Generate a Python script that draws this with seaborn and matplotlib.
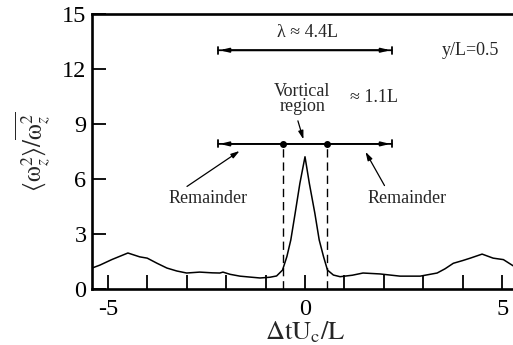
import numpy as np
import pandas as pd
import matplotlib
matplotlib.use("Agg")
import matplotlib.pyplot as plt
import seaborn as sns

# data
x_vals = [-5.40, -5.2, -4.9, -4.49, -4.19, -4.0, -3.75, -3.5, -3.25, -3.0, -2.67, -2.35, -2.16, -2.08,
          -1.9, -1.65, -1.4, -1.14, -0.89, -0.72, -0.57, -0.46, -0.36, -0.25, -0.13, 0.0,
          0.11, 0.25, 0.36, 0.47, 0.57, 0.72, 0.89, 1.2, 1.47, 1.9, 2.41, 2.92, 3.35, 3.55,
          3.76, 4.0, 4.19, 4.49, 4.77, 5.03, 5.25, 5.40]
y_vals = [1.14, 1.3, 1.6, 1.96, 1.75, 1.68, 1.4, 1.14, 0.98, 0.87, 0.92, 0.88, 0.87, 0.92,
          0.8, 0.7, 0.65, 0.6, 0.64, 0.71, 1.03, 1.76, 2.67, 4.12, 5.75, 7.2,
          5.75, 4.12, 2.67, 1.76, 1.03, 0.76, 0.67, 0.75, 0.87, 0.82, 0.7, 0.7, 0.87, 1.1,
          1.4, 1.55, 1.68, 1.9, 1.68, 1.6, 1.3, 1.1]
x_ticks = [-5, 0, 5]
y_ticks = [0, 3, 6, 9, 12, 15]
lambda_span = [-2.2, 2.2]
lambda_y = 13.0
bar_y = 7.9
vortical_edges = [-0.56, 0.56]

df = pd.DataFrame({"x": x_vals, "y": y_vals})

sns.set_style("ticks")
plt.rcParams["font.family"] = ["Liberation Serif", "DejaVu Serif"]
plt.rcParams["mathtext.fontset"] = "stix"

fig = plt.figure(figsize=(5.13, 3.45), dpi=100)
ax = fig.add_axes([92 / 513, 56 / 345, 426 / 513, 275.5 / 345])

sns.lineplot(data=df, x="x", y="y", ax=ax, color="black", linewidth=1.1)

ax.set_xlim(-5.4, 5.4)
ax.set_ylim(0, 15)
ax.set_xticks(range(-5, 6))
ax.set_xticklabels([str(t) if t in x_ticks else "" for t in range(-5, 6)])
ax.set_yticks(y_ticks)
ax.set_yticklabels([str(t) for t in y_ticks])
ax.tick_params(direction="in", length=10, width=1.3, labelsize=17.5, colors="black", pad=4)
ax.tick_params(axis="x", pad=7)
for s in ax.spines.values():
    s.set_linewidth(1.9)
    s.set_color("black")

ax.set_xlabel(r"$\mathrm{\Delta tU_c/L}$", fontsize=19, labelpad=0)
ax.set_ylabel(r"$\langle\mathrm{\omega}_z^2\rangle/\overline{\mathrm{\omega}_z^2}$", fontsize=18, labelpad=6)

def span_bar(y):
    ax.annotate("", xy=(lambda_span[0], y), xytext=(lambda_span[1], y),
                arrowprops=dict(arrowstyle="|-|,widthA=0.25,widthB=0.25", color="black",
                                lw=1.3, shrinkA=0, shrinkB=0))
    ax.annotate("", xy=(lambda_span[0], y), xytext=(lambda_span[1], y),
                arrowprops=dict(arrowstyle="<|-|>,head_length=0.5,head_width=0.12", color="black",
                                lw=1.3, shrinkA=1, shrinkB=1))

span_bar(lambda_y)
ax.text(0.07, 13.95, r"λ ≈ 4.4L", ha="center", va="center", fontsize=13)
ax.text(4.2, lambda_y, "y/L=0.5", ha="center", va="center", fontsize=13)

span_bar(bar_y)
ax.plot(vortical_edges, [bar_y, bar_y], "o", color="black", markersize=4)
for xe in vortical_edges:
    ax.plot([xe, xe], [0, bar_y], color="black", lw=1.0, ls=(0, (6, 3.5)))

ax.text(-0.07, 10.35, "Vortical\nregion", ha="center", va="center", fontsize=13, linespacing=0.85)
ax.text(1.75, 10.45, "≈ 1.1L", ha="center", va="center", fontsize=13)
ax.annotate("", xy=(-0.02, bar_y + 0.1), xytext=(-0.2, 9.3),
            arrowprops=dict(arrowstyle="-|>,head_length=0.5,head_width=0.15", color="black", lw=0.9))

ax.text(-2.46, 4.95, "Remainder", ha="center", va="center", fontsize=13)
ax.annotate("", xy=(-1.6, 7.6), xytext=(-3.05, 5.5),
            arrowprops=dict(arrowstyle="-|>,head_length=0.5,head_width=0.15", color="black", lw=0.9))
ax.text(2.6, 4.95, "Remainder", ha="center", va="center", fontsize=13)
ax.annotate("", xy=(1.5, 7.6), xytext=(2.05, 5.5),
            arrowprops=dict(arrowstyle="-|>,head_length=0.5,head_width=0.15", color="black", lw=0.9))

fig.savefig("out.png", dpi=100)
